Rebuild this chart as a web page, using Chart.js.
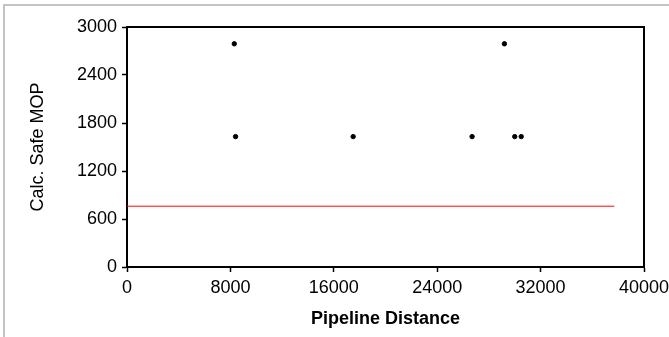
<!DOCTYPE html>
<html>
<head>
<meta charset="utf-8">
<script src="https://cdn.jsdelivr.net/npm/chart.js@4.4.1/dist/chart.umd.min.js"></script>
<style>
  html, body { margin: 0; padding: 0; background: #fff; overflow: hidden; }
  #frame { position: absolute; left: 3px; top: 4px; width: 720px; height: 400px; border: 2px solid #c4c4c4; box-sizing: border-box; }
  #wrap { position: absolute; left: 0; top: 0; width: 669px; height: 337px; }
</style>
</head>
<body>
<div id="frame"></div>
<div id="wrap"><canvas id="chart" width="669" height="337"></canvas></div>
<script>
// pipeline points
const distances = [8300, 8400, 17500, 26700, 29200, 30000, 30500];
const safeMop = [2790, 1630, 1630, 1630, 2790, 1630, 1630];

// red limit line
const limitX = [0, 37700];
const limitY = [760, 760];

// axis ticks
const xTicks = [0, 8000, 16000, 24000, 32000, 40000];
const yTicks = [0, 600, 1200, 1800, 2400, 3000];

Chart.defaults.font.family = "'Liberation Sans', Arial, sans-serif";
Chart.defaults.font.size = 18;
Chart.defaults.color = "#000";

// draw top and right edges of the plot box
const boxPlugin = {
  id: "box",
  afterDraw(chart) {
    const a = chart.chartArea;
    const ctx = chart.ctx;
    ctx.save();
    ctx.strokeStyle = "#000";
    ctx.lineWidth = 2;
    ctx.beginPath();
    ctx.moveTo(a.left, a.top);
    ctx.lineTo(a.right, a.top);
    ctx.lineTo(a.right, a.bottom);
    ctx.stroke();
    ctx.restore();
  }
};

new Chart(document.getElementById("chart"), {
  type: "scatter",
  data: {
    datasets: [
      {
        label: "Calc. Safe MOP",
        data: distances.map((d, i) => ({ x: d, y: safeMop[i] })),
        backgroundColor: "#000",
        borderColor: "#000",
        pointRadius: 2.2,
        pointHoverRadius: 2.2
      },
      {
        label: "Limit",
        type: "line",
        data: limitX.map((d, i) => ({ x: d, y: limitY[i] })),
        borderColor: "#ff0000",
        borderWidth: 1,
        pointRadius: 0,
        fill: false
      }
    ]
  },
  options: {
    responsive: false,
    animation: false,
    layout: { padding: { top: 27, right: 25, left: 0, bottom: 0 } },
    plugins: { legend: { display: false }, tooltip: { enabled: false } },
    scales: {
      x: {
        type: "linear",
        min: 0,
        max: 40000,
        afterBuildTicks: (s) => { s.ticks = xTicks.map(v => ({ value: v })); },
        afterFit: (s) => { s.height = 70; s.paddingLeft = 0; s.paddingRight = 0; },
        grid: { drawOnChartArea: false, drawTicks: true, tickLength: 5, tickColor: "#000", tickWidth: 1.5 },
        border: { display: true, color: "#000", width: 2 },
        ticks: { padding: 5, maxRotation: 0, callback: (v) => String(v) },
        title: { display: true, text: "Pipeline Distance", font: { size: 18, weight: "bold" }, padding: { bottom: 7 } }
      },
      y: {
        type: "linear",
        min: 0,
        max: 3000,
        afterBuildTicks: (s) => { s.ticks = yTicks.map(v => ({ value: v })); },
        afterFit: (s) => { s.width = 127; s.paddingTop = 0; s.paddingBottom = 0; },
        grid: { drawOnChartArea: false, drawTicks: true, tickLength: 5, tickColor: "#000", tickWidth: 1.5 },
        border: { display: true, color: "#000", width: 2 },
        ticks: { padding: 5, callback: (v) => String(v) },
        title: { display: true, text: "Calc. Safe MOP", font: { size: 18 }, padding: { top: 27 } }
      }
    }
  },
  plugins: [boxPlugin]
});
</script>
</body>
</html>
